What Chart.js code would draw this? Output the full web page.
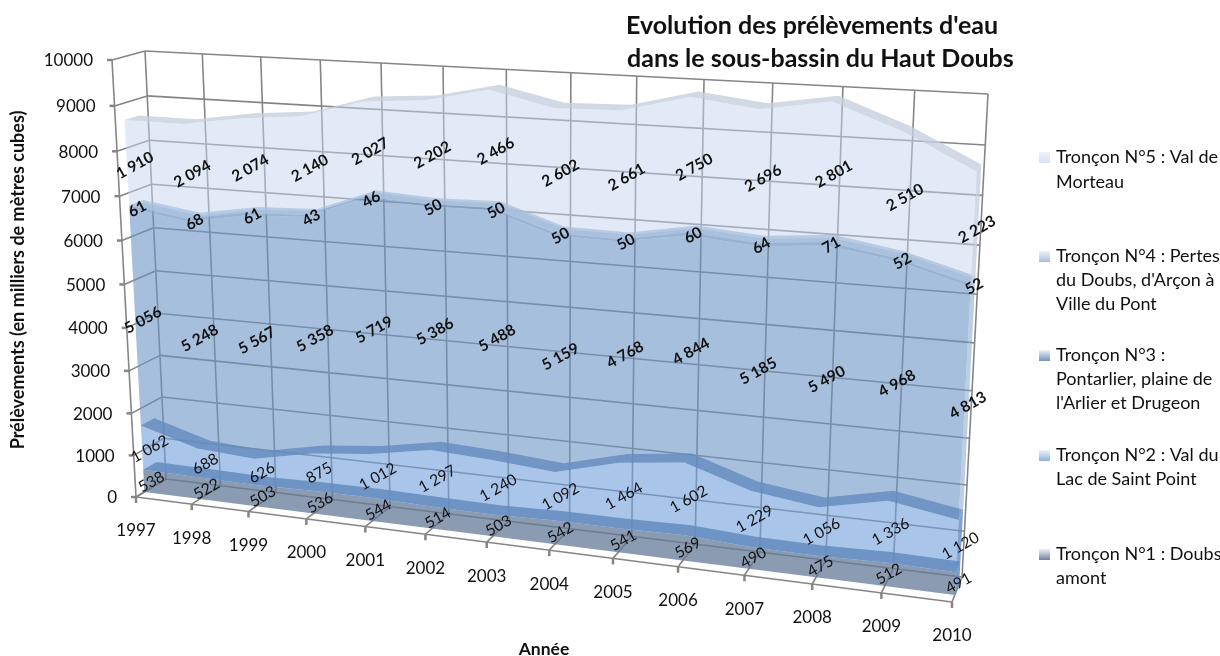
<!DOCTYPE html>
<html>
<head>
<meta charset="utf-8">
<title>Prélèvements d'eau - Haut Doubs</title>
<script src="https://cdn.jsdelivr.net/npm/chart.js@4"></script>
<style>
  html, body { margin: 0; background: #fff; }
  canvas { display: block; }
</style>
</head>
<body>
<canvas id="chart" width="1220" height="656"></canvas>
<script>
const years = ['1997','1998','1999','2000','2001','2002','2003','2004','2005','2006','2007','2008','2009','2010'];
const troncon1 = [538, 522, 503, 536, 544, 514, 503, 542, 541, 569, 490, 475, 512, 491];
const troncon2 = [1062, 688, 626, 875, 1012, 1297, 1240, 1092, 1464, 1602, 1229, 1056, 1336, 1120];
const troncon3 = [5056, 5248, 5567, 5358, 5719, 5386, 5488, 5159, 4768, 4844, 5185, 5490, 4968, 4813];
const troncon4 = [61, 68, 61, 43, 46, 50, 50, 50, 50, 60, 64, 71, 52, 52];
const troncon5 = [1910, 2094, 2074, 2140, 2027, 2202, 2466, 2602, 2661, 2750, 2696, 2801, 2510, 2223];

const seriesNames = ['Tronçon N°1 : Doubs amont', 'Tronçon N°2 : Val du Lac de Saint Point',
  'Tronçon N°3 : Pontarlier, plaine de l\'Arlier et Drugeon',
  'Tronçon N°4 : Pertes du Doubs, d\'Arçon à Ville du Pont', 'Tronçon N°5 : Val de Morteau'];
const faceColors = ['rgba(99,121,152,.75)', 'rgba(112,158,220,.6)', 'rgba(107,148,198,.6)', 'rgba(120,155,200,.6)', 'rgba(197,213,239,.5)'];
const ribbonColors = ['rgba(100,140,192,.85)', 'rgba(100,140,192,.8)', 'rgba(135,165,203,.55)', 'rgba(170,192,222,.75)', 'rgba(198,207,221,.8)'];
const swatchColors = ['#6f819d', '#8fb2e0', '#6f94c4', '#a4bee0', '#d8e2f1'];

// legend text, one entry per wrapped line: [series, text, centre y]
const legendLines = [
  [4, 'Tronçon N°5 : Val de', 157], [4, 'Morteau', 182],
  [3, 'Tronçon N°4 : Pertes', 256], [3, 'du Doubs, d\'Arçon à', 280], [3, 'Ville du Pont', 304],
  [2, 'Tronçon N°3 :', 355], [2, 'Pontarlier, plaine de', 379], [2, 'l\'Arlier et Drugeon', 403],
  [1, 'Tronçon N°2 : Val du', 455], [1, 'Lac de Saint Point', 479],
  [0, 'Tronçon N°1 : Doubs', 554], [0, 'amont', 578],
];

// corners of the plot box on screen: bottom-left, bottom-right, top-right, top-left
const frontCorners = [[136, 497], [952, 602], [977, 108], [112, 60]];
const backCorners = [[166, 479], [962, 577], [988, 94], [145, 51]];
const faceDepth = 0.28;
const rearDepth = 0.72;

function homography(q) {
  const [[x0, y0], [x1, y1], [x2, y2], [x3, y3]] = q;
  const dx1 = x1 - x2, dx2 = x3 - x2, sx = x0 - x1 + x2 - x3;
  const dy1 = y1 - y2, dy2 = y3 - y2, sy = y0 - y1 + y2 - y3;
  const den = dx1 * dy2 - dx2 * dy1;
  const g = (sx * dy2 - dx2 * sy) / den;
  const h = (dx1 * sy - sx * dy1) / den;
  const a = x1 - x0 + g * x1, b = x3 - x0 + h * x3;
  const d = y1 - y0 + g * y1, e = y3 - y0 + h * y3;
  return (u, v) => {
    const w = g * u + h * v + 1;
    return [(a * u + b * v + x0) / w, (d * u + e * v + y0) / w];
  };
}
const frontPlane = homography(frontCorners);
const backPlane = homography(backCorners);

// scale pixels -> screen position at a given depth of the box
function project(chart, px, py, depth) {
  const area = chart.chartArea;
  const u = (px - area.left) / area.width;
  const v = (area.bottom - py) / area.height;
  const f = frontPlane(u, v), b = backPlane(u, v);
  return [f[0] + (b[0] - f[0]) * depth, f[1] + (b[1] - f[1]) * depth];
}

function segment(ctx, p, q, color, width) {
  ctx.strokeStyle = color;
  ctx.lineWidth = width;
  ctx.beginPath();
  ctx.moveTo(p[0], p[1]);
  ctx.lineTo(q[0], q[1]);
  ctx.stroke();
}

function polygon(ctx, pts, color) {
  ctx.fillStyle = color;
  ctx.beginPath();
  pts.forEach((p, i) => (i ? ctx.lineTo(p[0], p[1]) : ctx.moveTo(p[0], p[1])));
  ctx.closePath();
  ctx.fill();
}

function formatValue(v) {
  return String(v).replace(/\B(?=(\d{3})+$)/g, ' ');
}

const boxPlugin = {
  id: 'box',
  beforeDatasetsDraw(chart) {
    const { ctx, scales: { x, y } } = chart;
    const grid = '#858585';
    const left = x.getPixelForValue(0), right = x.getPixelForValue(years.length - 1);
    const base = y.getPixelForValue(0), top = y.getPixelForValue(10000);
    ctx.save();

    // walls and floor
    y.ticks.forEach((t) => {
      const py = y.getPixelForValue(t.value);
      segment(ctx, project(chart, left, py, 1), project(chart, right, py, 1), grid, 1.6);
      segment(ctx, project(chart, left, py, 0), project(chart, left, py, 1), grid, 1.6);
      const f = project(chart, left, py, 0);
      segment(ctx, [f[0] - 5, f[1]], f, grid, 2.5);
    });
    years.forEach((label, i) => {
      const px = x.getPixelForValue(i);
      segment(ctx, project(chart, px, base, 1), project(chart, px, top, 1), grid, 1.6);
      segment(ctx, project(chart, px, base, 0), project(chart, px, base, 1), grid, 1.6);
      const f = project(chart, px, base, 0);
      segment(ctx, f, [f[0], f[1] + 6], grid, 2.5);
    });
    segment(ctx, project(chart, left, base, 0), project(chart, left, top, 0), grid, 1.6);
    segment(ctx, project(chart, left, base, 0), project(chart, right, base, 0), grid, 1.6);

    // front faces, then the top ribbons and the end caps
    const metas = chart.data.datasets.map((d, i) => chart.getDatasetMeta(i).data);
    metas.forEach((points, s) => {
      const upper = points.map((p) => project(chart, p.x, p.y, faceDepth));
      const lower = s === 0
        ? points.map((p) => project(chart, p.x, base, faceDepth))
        : metas[s - 1].map((p) => project(chart, p.x, p.y, faceDepth));
      polygon(ctx, upper.concat(lower.reverse()), faceColors[s]);
    });
    metas.forEach((points, s) => {
      const near = points.map((p) => project(chart, p.x, p.y, faceDepth));
      const far = points.map((p) => project(chart, p.x, p.y, rearDepth));
      polygon(ctx, near.concat(far.reverse()), ribbonColors[s]);
      const last = points[points.length - 1];
      const lastBase = s === 0 ? base : metas[s - 1][points.length - 1].y;
      polygon(ctx, [
        project(chart, last.x, last.y, faceDepth), project(chart, last.x, last.y, rearDepth),
        project(chart, last.x, lastBase, rearDepth), project(chart, last.x, lastBase, faceDepth),
      ], ribbonColors[s]);
    });
    ctx.restore();
  },
  afterDraw(chart) {
    const { ctx, scales: { x, y } } = chart;
    const left = x.getPixelForValue(0);
    const base = y.getPixelForValue(0);
    ctx.save();
    ctx.fillStyle = '#111';
    ctx.textBaseline = 'middle';

    // value labels in the middle of each band
    const metas = chart.data.datasets.map((d, i) => chart.getDatasetMeta(i).data);
    metas.forEach((points, s) => {
      ctx.font = (s >= 2 ? 'bold ' : '') + '15.5px Lato';
      ctx.textAlign = 'center';
      points.forEach((p, i) => {
        const under = s === 0 ? base : metas[s - 1][i].y;
        const pos = project(chart, p.x, (p.y + under) / 2, 0.5);
        ctx.save();
        ctx.translate(pos[0] + 1, pos[1] + 5);
        ctx.rotate(-29 * Math.PI / 180);
        ctx.fillText(formatValue(chart.data.datasets[s].data[i]), 0, 0);
        ctx.restore();
      });
    });

    // axis tick labels
    ctx.font = '17px Lato';
    ctx.textAlign = 'right';
    y.ticks.forEach((t) => {
      const f = project(chart, left, y.getPixelForValue(t.value), 0);
      ctx.fillText(String(t.value), f[0] - 19, f[1] + 1);
    });
    ctx.textAlign = 'center';
    years.forEach((label, i) => {
      const f = project(chart, x.getPixelForValue(i), base, 0);
      ctx.fillText(label, f[0], f[1] + 34);
    });

    // axis titles
    ctx.font = 'bold 17.5px Lato';
    ctx.fillText('Année', 544, 649);
    ctx.font = 'bold 18px Lato';
    ctx.save();
    ctx.translate(18, 280);
    ctx.rotate(-Math.PI / 2);
    ctx.fillText('Prélèvements (en milliers de mètres cubes)', 0, 0);
    ctx.restore();

    // title
    ctx.font = 'bold 25px Lato';
    ctx.textAlign = 'left';
    ctx.fillText('Evolution des prélèvements d\'eau', 626, 26);
    ctx.fillText('dans le sous-bassin du Haut Doubs', 627, 59);

    // legend
    ctx.font = '18px Lato';
    const seen = {};
    legendLines.forEach(([s, text, cy]) => {
      if (!seen[s]) {
        seen[s] = true;
        const g = ctx.createLinearGradient(0, cy - 5, 0, cy + 6);
        g.addColorStop(0, '#eef2f8');
        g.addColorStop(1, swatchColors[s]);
        ctx.fillStyle = g;
        ctx.fillRect(1039, cy - 5, 11, 11);
        ctx.fillStyle = '#111';
      }
      ctx.fillText(text, 1056, cy);
    });
    ctx.restore();
  },
};

new Chart(document.getElementById('chart'), {
  type: 'line',
  data: {
    labels: years,
    datasets: [troncon1, troncon2, troncon3, troncon4, troncon5].map((values, i) => ({
      label: seriesNames[i],
      data: values,
      borderWidth: 0,
      pointRadius: 0,
      fill: false,
    })),
  },
  options: {
    responsive: false,
    animation: false,
    plugins: { legend: { display: false }, tooltip: { enabled: false } },
    scales: {
      x: { display: false, offset: false },
      y: { display: false, stacked: true, min: 0, max: 10000, ticks: { stepSize: 1000 } },
    },
  },
  plugins: [boxPlugin],
});
</script>
</body>
</html>
